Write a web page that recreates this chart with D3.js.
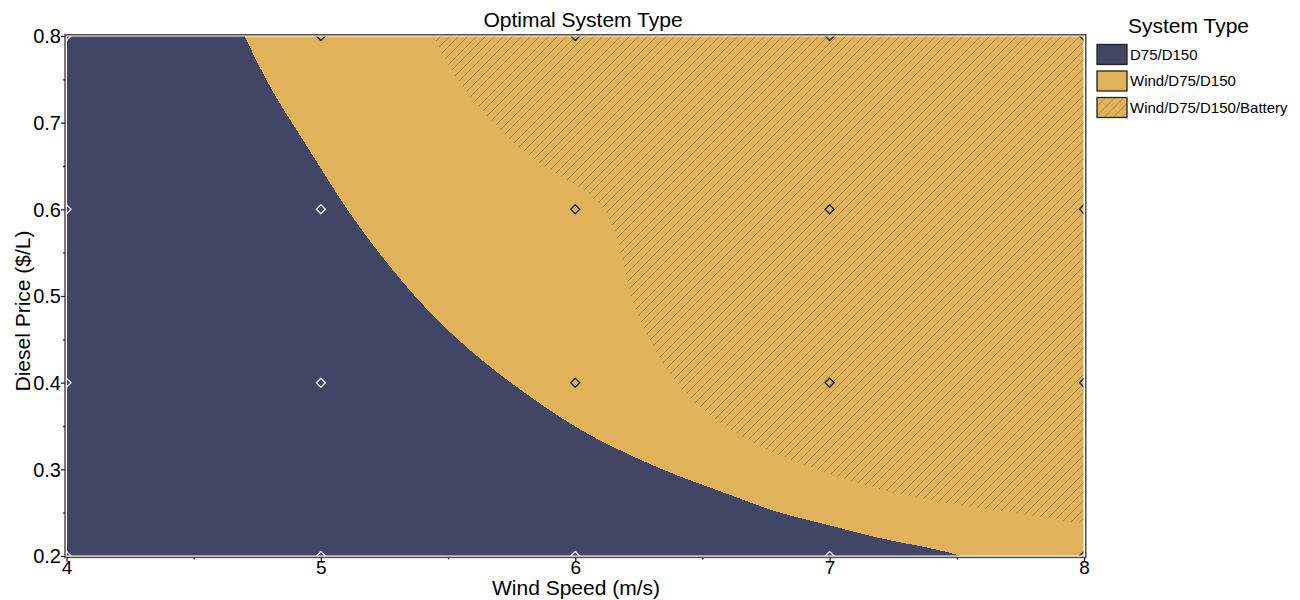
<!DOCTYPE html>
<html>
<head>
<meta charset="utf-8">
<script src="https://cdn.jsdelivr.net/npm/d3@7"></script>
<style>
  html, body { margin: 0; padding: 0; background: #fff; }
  svg { display: block; font-family: "Liberation Sans", Arial, sans-serif; }
</style>
</head>
<body>
<svg id="chart" width="1300" height="600"></svg>
<script>
// ---- data ----
const windTicks = [4, 5, 6, 7, 8];
const windMinorTicks = [4.5, 5.5, 6.5, 7.5];
const priceTicks = [0.2, 0.3, 0.4, 0.5, 0.6, 0.7, 0.8];
const priceMinorTicks = [0.25, 0.35, 0.45, 0.55, 0.65, 0.75];

const systemTypes = ["D75/D150", "Wind/D75/D150", "Wind/D75/D150/Battery"];
const systemColors = ["#424666", "#E0B35B", "#E0B35B"];

// boundary between D75/D150 (left/below) and Wind/D75/D150
const dieselBoundaryWind  = [4.70, 4.752, 4.82, 4.904, 4.988, 5.068, 5.160, 5.259, 5.370, 5.480, 5.626, 5.732, 5.878, 6.020, 6.145, 6.270, 6.405, 6.540, 6.676, 6.807, 6.938, 7.07, 7.20, 7.33, 7.46, 7.516];
const dieselBoundaryPrice = [0.800, 0.768, 0.730, 0.692, 0.653, 0.615, 0.576, 0.538, 0.499, 0.465, 0.427, 0.403, 0.372, 0.345, 0.326, 0.309, 0.292, 0.278, 0.263, 0.249, 0.240, 0.230, 0.220, 0.213, 0.205, 0.200];

// boundary between Wind/D75/D150 and Wind/D75/D150/Battery (right/above)
const batteryBoundaryWind  = [5.443, 5.521, 5.652, 5.783, 5.915, 6.046, 6.124, 6.164, 6.190, 6.217, 6.269, 6.340, 6.413, 6.545, 6.676, 6.807, 6.938, 7.07, 7.20, 7.33, 7.46, 7.57, 7.74, 8.0];
const batteryBoundaryPrice = [0.800, 0.753, 0.707, 0.668, 0.642, 0.622, 0.599, 0.568, 0.538, 0.499, 0.461, 0.424, 0.392, 0.357, 0.334, 0.315, 0.301, 0.288, 0.276, 0.268, 0.261, 0.256, 0.249, 0.237];

// simulated grid points and their optimal system (index into systemTypes)
const gridWind  = [4, 5, 6, 7, 8];
const gridPrice = [0.2, 0.4, 0.6, 0.8];
const gridOptimal = [
  [0, 0, 0, 0, 1],   // 0.2
  [0, 0, 1, 2, 2],   // 0.4
  [0, 0, 1, 2, 2],   // 0.6
  [0, 1, 2, 2, 2]    // 0.8
];

// ---- layout ----
const svg = d3.select("#chart");
const x = d3.scaleLinear().domain([4, 8]).range([66.5, 1084]);
const y = d3.scaleLinear().domain([0.2, 0.8]).range([556, 36]);
const font = '"Liberation Sans", Arial, sans-serif';

const defs = svg.append("defs");
defs.append("clipPath").attr("id", "plotClip")
  .append("rect")
  .attr("x", x(4)).attr("y", y(0.8))
  .attr("width", x(8) - x(4)).attr("height", y(0.2) - y(0.8));

function hatch(id, size) {
  const p = defs.append("pattern").attr("id", id)
    .attr("patternUnits", "userSpaceOnUse")
    .attr("width", size).attr("height", size);
  p.append("path")
    .attr("d", `M-1,1 l2,-2 M0,${size} l${size},${-size} M${size - 1},${size + 1} l2,-2`)
    .attr("stroke", "#ad883c").attr("stroke-width", 1).attr("fill", "none");
}
hatch("hatchPlot", 9);
hatch("hatchLegend", 9);

const plot = svg.append("g").attr("clip-path", "url(#plotClip)");

// base: Wind/D75/D150
plot.append("rect")
  .attr("x", x(4)).attr("y", y(0.8))
  .attr("width", x(8) - x(4)).attr("height", y(0.2) - y(0.8))
  .attr("fill", systemColors[1]);

const curve = d3.line().x(d => x(d[0])).y(d => y(d[1])).curve(d3.curveBasis);

// battery region
const batteryPts = batteryBoundaryWind.map((w, i) => [w, batteryBoundaryPrice[i]]);
const batteryPath = curve(batteryPts) + `L${x(8) + 2},${y(0.8) - 2}Z`;
plot.append("path").attr("d", batteryPath).attr("fill", systemColors[2]);
plot.append("path").attr("d", batteryPath).attr("fill", "url(#hatchPlot)");

// diesel-only region
const dieselPts = dieselBoundaryWind.map((w, i) => [w, dieselBoundaryPrice[i]]);
const dieselPath = curve(dieselPts) + `L${x(4) - 2},${y(0.2) + 2}L${x(4) - 2},${y(0.8) - 2}L${x(dieselPts[0][0])},${y(0.8) - 2}Z`;
plot.append("path")
  .attr("d", dieselPath)
  .attr("fill", systemColors[0])
  .attr("shape-rendering", "crispEdges");

// markers
const markers = [];
gridPrice.forEach((p, r) => gridWind.forEach((w, c) => markers.push({ w, p, t: gridOptimal[r][c] })));
const dm = 4.5;
plot.selectAll("path.marker").data(markers).enter().append("path")
  .attr("class", "marker")
  .attr("d", d => `M${x(d.w)},${y(d.p) - dm} L${x(d.w) + dm},${y(d.p)} L${x(d.w)},${y(d.p) + dm} L${x(d.w) - dm},${y(d.p)} Z`)
  .attr("fill", "none")
  .attr("stroke", d => d.t === 0 ? "#e6e6e6" : "#2a2a2a")
  .attr("stroke-width", 1.4);

// inner white border and outer frame
svg.append("rect")
  .attr("x", x(4)).attr("y", y(0.8))
  .attr("width", x(8) - x(4)).attr("height", y(0.2) - y(0.8))
  .attr("fill", "none").attr("stroke", "#ffffff").attr("stroke-width", 1);
svg.append("rect")
  .attr("x", 65).attr("y", 34.8)
  .attr("width", 1085.8 - 65).attr("height", 557.4 - 34.8)
  .attr("fill", "none").attr("stroke", "#4d4d4d").attr("stroke-width", 1.5);

// axes
const xAxis = svg.append("g").attr("transform", "translate(0,557.4)")
  .call(d3.axisBottom(x).tickValues(windTicks).tickSize(4).tickFormat(d3.format("d")));
const xMinor = svg.append("g").attr("transform", "translate(0,557.4)")
  .call(d3.axisBottom(x).tickValues(windMinorTicks).tickSize(2).tickFormat(""));
const yAxis = svg.append("g").attr("transform", "translate(65,0)")
  .call(d3.axisLeft(y).tickValues(priceTicks).tickSize(4).tickFormat(d3.format(".1f")));
const yMinor = svg.append("g").attr("transform", "translate(65,0)")
  .call(d3.axisLeft(y).tickValues(priceMinorTicks).tickSize(2).tickFormat(""));
[xAxis, xMinor, yAxis, yMinor].forEach(g => {
  g.select(".domain").remove();
  g.selectAll(".tick line").attr("stroke", "#222").attr("stroke-width", 1.3);
});
xAxis.selectAll(".tick text")
  .attr("fill", "#000").attr("font-size", 19).attr("font-family", font)
  .attr("y", 3).attr("dy", "0.71em");
yAxis.selectAll(".tick text")
  .attr("fill", "#000").attr("font-size", 20).attr("font-family", font)
  .attr("x", -4).attr("dy", "0.34em");

// titles
svg.append("text").attr("x", 583).attr("y", 26.5)
  .attr("text-anchor", "middle").attr("font-size", 21).attr("font-family", font)
  .text("Optimal System Type");
svg.append("text").attr("x", 576).attr("y", 595)
  .attr("text-anchor", "middle").attr("font-size", 21).attr("font-family", font)
  .text("Wind Speed (m/s)");
svg.append("text")
  .attr("transform", "translate(29.5,311) rotate(-90)")
  .attr("text-anchor", "middle").attr("font-size", 21).attr("font-family", font)
  .text("Diesel Price ($/L)");

// legend
const legend = svg.append("g");
legend.append("text").attr("x", 1128).attr("y", 32.5)
  .attr("font-size", 21).attr("font-family", font).text("System Type");
const lg = legend.selectAll("g.item").data(systemTypes).enter().append("g")
  .attr("class", "item")
  .attr("transform", (d, i) => `translate(1097,${44.5 + i * 26.5})`);
lg.append("rect").attr("width", 30).attr("height", 20)
  .attr("fill", (d, i) => systemColors[i]);
lg.filter((d, i) => i === 2).append("rect").attr("width", 30).attr("height", 20)
  .attr("fill", "url(#hatchLegend)");
lg.append("rect").attr("width", 30).attr("height", 20)
  .attr("fill", "none").attr("stroke", "#222").attr("stroke-width", 1.3);
lg.append("text").attr("x", 33).attr("y", 15)
  .attr("font-size", 15).attr("font-family", font).text(d => d);
</script>
</body>
</html>
